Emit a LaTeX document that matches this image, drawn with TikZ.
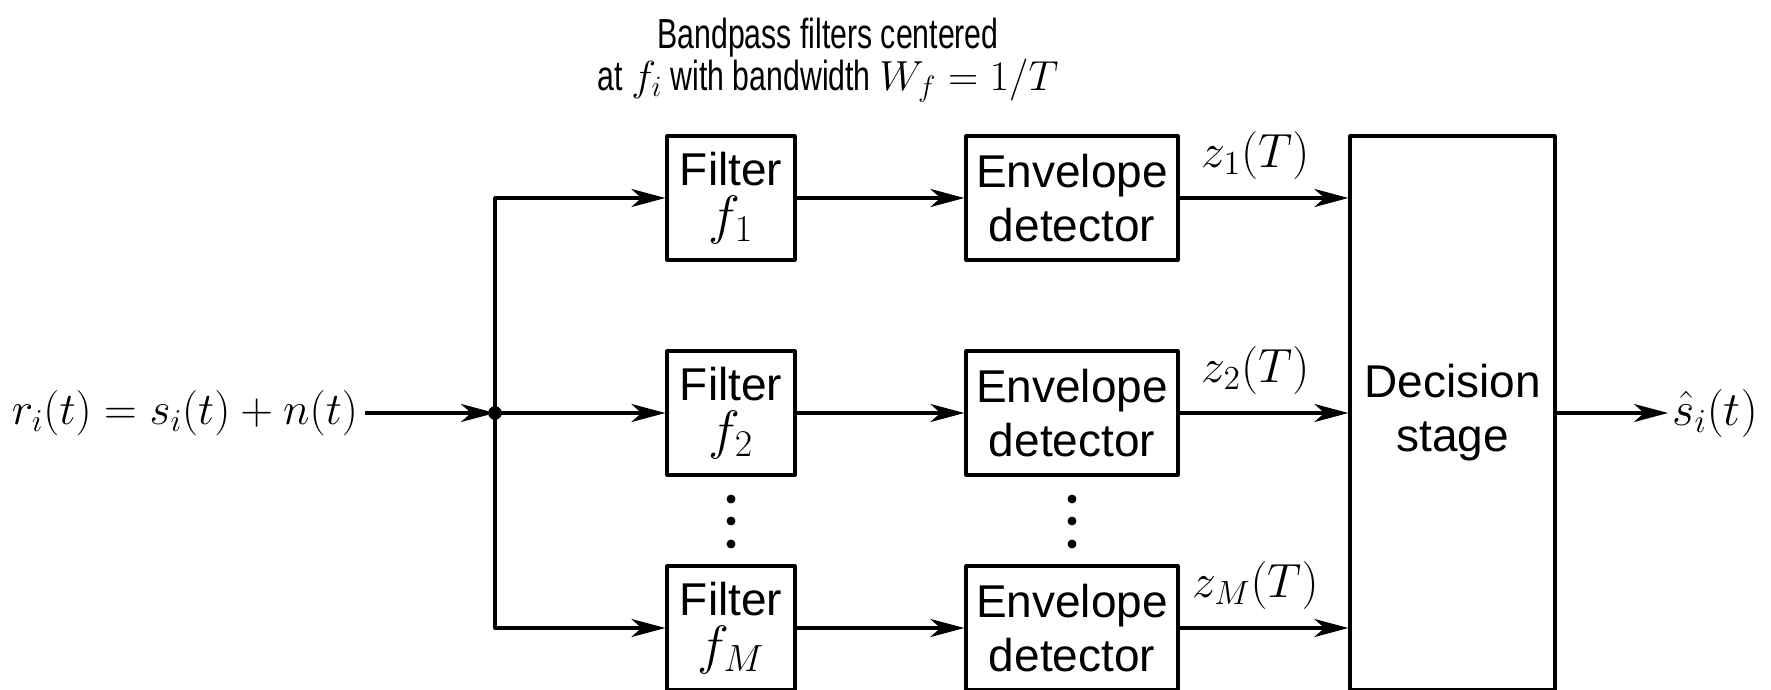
\RequirePackage{fix-cm}
\documentclass[tikz,border=0pt]{standalone}
\usepackage{amsmath,amssymb}
\usepackage{fontspec}
\setsansfont{Liberation Sans}
\newfontfamily\captfont[FakeStretch=0.72]{Liberation Sans}
\usetikzlibrary{arrows.meta}
\newcommand{\fsub}[1]{{\fontsize{27}{27}\selectfont$f_{#1}$}}

\tikzset{
        blk/.style={draw,line width=1.6pt,inner sep=0pt,minimum height=62pt,align=center,
                font=\sffamily\fontsize{23}{27}\selectfont},
        sig/.style={line width=1.6pt,-{Stealth[length=17pt,width=9pt,inset=5pt]}},
        lbl/.style={font=\fontsize{24}{28}\selectfont},
}

\begin{document}
\begin{tikzpicture}[x=0.5pt,y=-0.5pt,join=round] % M-ary noncoherent FSK receiver
        \useasboundingbox (0,0) rectangle (1771,690);
        \node[align=center,font=\captfont\fontsize{21}{18.5}\selectfont] (capt) at (828,60)
                {Bandpass filters centered\\at $f_i$ with bandwidth $W_f = 1/T$};
        \node[blk,minimum width=64pt] (flt1) at (731,198) {Filter\\[-3pt]\fsub{1}};
        \node[blk,minimum width=64pt] (flt2) at (731,413) {Filter\\[-3pt]\fsub{2}};
        \node[blk,minimum width=64pt] (fltM) at (731,628) {Filter\\[-3pt]\fsub{M}};
        \node[blk,minimum width=106pt] (env1) at (1072,198) {Envelope\\detector};
        \node[blk,minimum width=106pt] (env2) at (1072,413) {Envelope\\detector};
        \node[blk,minimum width=106pt] (envM) at (1072,628) {Envelope\\detector};
        \node[blk,minimum width=102.5pt,minimum height=277pt] (dec) at (1452.5,413) {Decision\\stage};
        \node[lbl,anchor=east,font=\fontsize{22.7}{27}\selectfont] (rin) at (365,413) {$r_i(t) = s_i(t) + n(t)$};
        \node[lbl,anchor=west,inner sep=2pt] (shat) at (1668,413) {$\hat{s}_i(t)$};
        \coordinate (jn) at (495,413);
        \draw[sig] (rin) -- (jn);
        \filldraw (jn) circle (3.2pt);
        \draw[sig] (jn) |- (flt1.west);
        \draw[sig] (jn) -- (flt2.west);
        \draw[sig] (jn) |- (fltM.west);
        \foreach \k in {1,2,M} {
                \draw[sig] (flt\k) -- (env\k);
                \draw[sig] (env\k.east) -- (env\k.east -| dec.west)
                        node[lbl,above=5pt,pos=.45] {$z_{\k}(T)$};
        }
        \draw[sig] (dec) -- (shat);
        \filldraw (731,499) circle (2pt) (731,521) circle (2pt) (731,544) circle (2pt);
        \filldraw (1072,499) circle (2pt) (1072,521) circle (2pt) (1072,544) circle (2pt);
\end{tikzpicture}
\end{document}
